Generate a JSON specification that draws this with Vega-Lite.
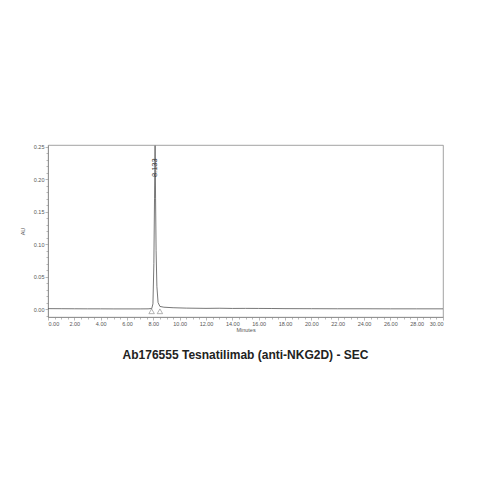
{
  "$schema": "https://vega.github.io/schema/vega-lite/v6.json",
  "autosize": {"type": "none"},
  "padding": {"left": 48, "top": 145, "right": 36, "bottom": 162},
  "width": 395,
  "height": 172,
  "title": {
    "text": "Ab176555 Tesnatilimab (anti-NKG2D) - SEC",
    "orient": "bottom",
    "anchor": "middle",
    "font": "Liberation Sans",
    "fontSize": 12,
    "fontWeight": "bold",
    "color": "#222",
    "offset": 17
  },
  "config": {
    "view": {"stroke": "#8a8a8a", "strokeWidth": 0.8},
    "axis": {
      "grid": false,
      "labelOverlap": false,
      "domainColor": "#8a8a8a",
      "domainWidth": 0.8,
      "tickColor": "#8a8a8a",
      "tickWidth": 0.6,
      "labelFont": "Liberation Sans",
      "labelFontSize": 5.5,
      "labelColor": "#555",
      "titleFont": "Liberation Sans",
      "titleFontSize": 5.5,
      "titleFontWeight": "normal",
      "titleColor": "#555"
    }
  },
  "datasets": {
    "trace": [
      {"minutes": 0.0, "au": 0.0006},
      {"minutes": 1.0, "au": 0.0005},
      {"minutes": 2.0, "au": 0.0004},
      {"minutes": 3.0, "au": 0.0003},
      {"minutes": 4.0, "au": 0.0003},
      {"minutes": 5.0, "au": 0.0002},
      {"minutes": 6.0, "au": 0.0002},
      {"minutes": 7.0, "au": 0.0002},
      {"minutes": 7.6, "au": 0.0003},
      {"minutes": 7.88, "au": 0.0008},
      {"minutes": 7.97, "au": 0.008},
      {"minutes": 8.04, "au": 0.07},
      {"minutes": 8.09, "au": 0.17},
      {"minutes": 8.133, "au": 0.252},
      {"minutes": 8.17, "au": 0.17},
      {"minutes": 8.21, "au": 0.09},
      {"minutes": 8.27, "au": 0.035},
      {"minutes": 8.36, "au": 0.01},
      {"minutes": 8.5, "au": 0.004},
      {"minutes": 8.8, "au": 0.0028},
      {"minutes": 9.5, "au": 0.002},
      {"minutes": 10.5, "au": 0.0014},
      {"minutes": 12.0, "au": 0.001},
      {"minutes": 13.0, "au": 0.0012},
      {"minutes": 14.0, "au": 0.0009},
      {"minutes": 15.0, "au": 0.001},
      {"minutes": 16.0, "au": 0.0009},
      {"minutes": 17.0, "au": 0.0008},
      {"minutes": 18.0, "au": 0.0006},
      {"minutes": 20.0, "au": 0.0005},
      {"minutes": 22.0, "au": 0.0004},
      {"minutes": 24.0, "au": 0.0004},
      {"minutes": 26.0, "au": 0.0003},
      {"minutes": 28.0, "au": 0.0003},
      {"minutes": 30.0, "au": 0.0003}
    ],
    "marks": [
      {"minutes": 7.87, "au": -0.0035},
      {"minutes": 8.5, "au": -0.0035}
    ],
    "peaks": [
      {"minutes": 8.133, "au": 0.218, "label": "8.133"}
    ]
  },
  "layer": [
    {
      "data": {"name": "trace"},
      "mark": {"type": "line", "color": "#555", "strokeWidth": 0.8, "clip": true},
      "encoding": {
        "x": {
          "field": "minutes",
          "type": "quantitative",
          "scale": {"domain": [0, 30], "nice": false, "zero": false},
          "axis": {
            "title": "Minutes",
            "values": [0, 2, 4, 6, 8, 10, 12, 14, 16, 18, 20, 22, 24, 26, 28, 30],
            "format": ".2f",
            "labelOverlap": false,
            "tickSize": 3,
            "labelPadding": 1,
            "titlePadding": 1,
            "orient": "bottom"
          }
        },
        "y": {
          "field": "au",
          "type": "quantitative",
          "scale": {"domain": [-0.0123, 0.253], "nice": false, "zero": false},
          "axis": {
            "title": "AU",
            "values": [0, 0.05, 0.1, 0.15, 0.2, 0.25],
            "format": ".2f",
            "labelOverlap": false,
            "tickSize": 3,
            "labelPadding": 1,
            "titlePadding": 8,
            "orient": "left"
          }
        }
      }
    },
    {
      "data": {"name": "marks"},
      "mark": {"type": "point", "shape": "triangle-up", "filled": false, "color": "#666", "strokeWidth": 0.7, "size": 30},
      "encoding": {
        "x": {
          "field": "minutes",
          "type": "quantitative",
          "axis": {
            "values": [0.5, 1, 1.5, 2.5, 3, 3.5, 4.5, 5, 5.5, 6.5, 7, 7.5, 8.5, 9, 9.5, 10.5, 11, 11.5, 12.5, 13, 13.5, 14.5, 15, 15.5, 16.5, 17, 17.5, 18.5, 19, 19.5, 20.5, 21, 21.5, 22.5, 23, 23.5, 24.5, 25, 25.5, 26.5, 27, 27.5, 28.5, 29, 29.5],
            "labels": false,
            "title": null,
            "domain": false,
            "tickSize": 2,
            "orient": "bottom"
          }
        },
        "y": {
          "field": "au",
          "type": "quantitative",
          "axis": {
            "values": [-0.01, 0.01, 0.02, 0.03, 0.04, 0.06, 0.07, 0.08, 0.09, 0.11, 0.12, 0.13, 0.14, 0.16, 0.17, 0.18, 0.19, 0.21, 0.22, 0.23, 0.24],
            "labels": false,
            "title": null,
            "domain": false,
            "tickSize": 2,
            "orient": "left"
          }
        }
      }
    },
    {
      "data": {"name": "peaks"},
      "mark": {"type": "text", "angle": 270, "align": "center", "baseline": "middle", "font": "Liberation Sans", "fontSize": 7.5, "color": "#333"},
      "encoding": {
        "x": {"field": "minutes", "type": "quantitative", "axis": null},
        "y": {"field": "au", "type": "quantitative", "axis": null},
        "text": {"field": "label"}
      }
    }
  ],
  "resolve": {"axis": {"x": "independent", "y": "independent"}}
}
